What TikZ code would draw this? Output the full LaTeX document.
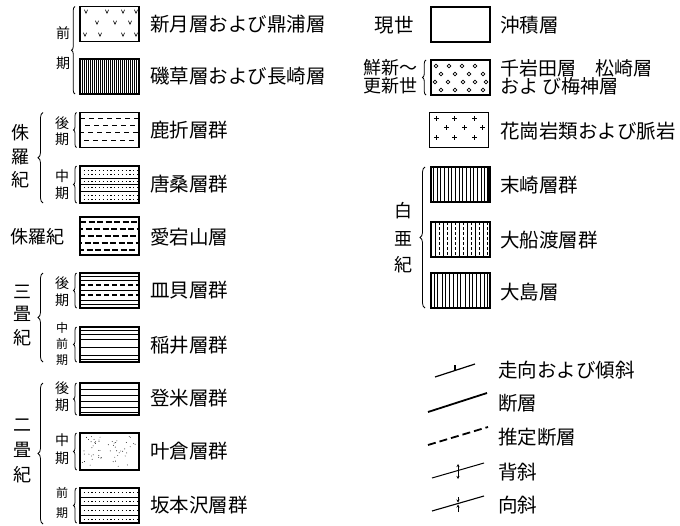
\documentclass[tikz,border=0pt]{standalone}
\usepackage{fontspec}
\newfontfamily\jp{Noto Sans CJK JP}
\usetikzlibrary{decorations.pathreplacing,arrows.meta,calc}
\tikzset{
  legbox/.style={draw, line width=1.1pt, minimum width=59pt, minimum height=35pt, inner sep=0pt, outer sep=0pt},
  hl/.style={line width=0.6pt},
  dotl/.style={line width=0.6pt, dash pattern=on 1.2pt off 2.6pt},
  lab/.style={anchor=west, inner sep=0pt, font=\jp\fontsize{19.5}{19.5}\selectfont},
  side/.style={inner sep=0pt, font=\jp\fontsize{14}{14}\selectfont},
  sidesm/.style={inner sep=0pt, font=\jp\fontsize{12}{12}\selectfont},
  era/.style={inner sep=0pt, font=\jp\fontsize{18}{18}\selectfont},
  brc/.style={decorate, decoration={brace, amplitude=#1}, line width=0.8pt},
  brc/.default=3.5pt,
  sym/.style={line width=1.2pt}
}
\newcommand\fillpat[2]{\begin{scope}\clip (#1.north west) rectangle (#1.south east);
  \begin{scope}[shift={(#1.north west)}]#2\end{scope}\end{scope}}
\begin{document}
\begin{tikzpicture}[x=1pt,y=-1pt]
\useasboundingbox (0,0) rectangle (680,525);

% ---------------- left column boxes ----------------
\node[legbox] (L1) at (109.5,24) {};
\node[legbox] (L2) at (109.5,76.5) {};
\node[legbox] (L3) at (109.5,130) {};
\node[legbox, minimum height=37pt] (L4) at (109.5,184.5) {};
\node[legbox, minimum height=38pt] (L5) at (109.5,236) {};
\node[legbox] (L6) at (109.5,290.5) {};
\node[legbox] (L7) at (109.5,344.5) {};
\node[legbox, minimum height=32pt] (L8) at (109.5,399) {};
\node[legbox, minimum height=37pt] (L9) at (109.5,451.5) {};
\node[legbox] (L10) at (109.5,505.5) {};

\fillpat{L1}{\foreach \x/\y in {6/5,27/5,43/5,56/5,17/16,35/16,50/16,5/28,20/28,43/28,56/28}
   \draw[line width=0.6pt] (\x-1.6,\y-1.8) -- (\x,\y+1.8) -- (\x+1.6,\y-1.8);}
\fillpat{L2}{\foreach \i in {2,4,...,58} \draw[line width=0.75pt] (\i,0)--(\i,40);}
\fillpat{L3}{\foreach \y/\o in {6/0,13/4,20/1,28/5} \draw[line width=0.6pt, dash pattern=on 5pt off 4pt, dash phase=\o pt] (0,\y)--(60,\y);}
\fillpat{L4}{\foreach \y in {12,18,25} \draw[hl] (0,\y)--(60,\y);
   \foreach \y in {4,8,15,21,29,33} \draw[dotl] (0,\y)--(60,\y);}
\fillpat{L5}{\foreach \y/\o in {5/0,12/3,19/1,26/4,33/2} \draw[line width=1.5pt, dash pattern=on 6pt off 2.5pt, dash phase=\o pt] (0,\y)--(60,\y);}
\fillpat{L6}{\foreach \y in {3,7,17,27,31} \draw[hl] (0,\y)--(60,\y);
   \foreach \y in {12,22} \draw[line width=1.4pt, dash pattern=on 5pt off 3pt] (0,\y)--(60,\y);}
\fillpat{L7}{\foreach \y in {3,7,12,20,28,32} \draw[hl] (0,\y)--(60,\y);}
\fillpat{L8}{\foreach \y in {6,12,18,24,29} \draw[hl] (0,\y)--(60,\y);}
\fillpat{L9}{\pgfmathsetseed{11}\foreach \k in {1,...,55}{\pgfmathsetmacro\rx{2+55*rnd}\pgfmathsetmacro\ry{2+33*rnd}\fill (\rx,\ry) circle (0.45pt);}}
\fillpat{L10}{\foreach \y in {9,17,27} \draw[hl] (0,\y)--(60,\y);
   \foreach \y in {4,13,22,31} \draw[dotl] (0,\y)--(60,\y);}

% left texts
\node[lab] (T1) at (150,24) {新月層および鼎浦層};
\node[lab] (T2) at (150,76) {磯草層および長崎層};
\node[lab] (T3) at (150,130) {鹿折層群};
\node[lab] (T4) at (150,184) {唐桑層群};
\node[lab] (T5) at (150,237) {愛宕山層};
\node[lab] (T6) at (150,290) {皿貝層群};
\node[lab] (T7) at (150,345) {稲井層群};
\node[lab] (T8) at (150,398) {登米層群};
\node[lab] (T9) at (150,451) {叶倉層群};
\node[lab] (T10) at (150,505) {坂本沢層群};

% side labels
\node[side] (a1) at (63,33) {前};
\node[side] (a2) at (63,63) {期};
\node[side] (b1) at (62,123) {後};
\node[side] (b2) at (62,139) {期};
\node[side] (c1) at (62,176) {中};
\node[side] (c2) at (62,193) {期};
\node[side] (d1) at (62,283) {後};
\node[side] (d2) at (62,300) {期};
\node[sidesm] (e1) at (62,328) {中};
\node[sidesm] (e2) at (62,344) {前};
\node[sidesm] (e3) at (62,360) {期};
\node[side] (f1) at (62,388) {後};
\node[side] (f2) at (62,405) {期};
\node[side] (g1) at (62,440) {中};
\node[side] (g2) at (62,458) {期};
\node[sidesm] (h1) at (62,493) {前};
\node[sidesm] (h2) at (62,513) {期};

% era labels
\node[era] (j1) at (21,133) {侏};
\node[era] (j2) at (21,157) {羅};
\node[era] (j3) at (21,180) {紀};
\node[era] (jj) at (37,237) {侏羅紀};
\node[era] (k1) at (22,292) {三};
\node[era] (k2) at (22,314) {畳};
\node[era] (k3) at (22,338) {紀};
\node[era] (m1) at (22,425) {二};
\node[era] (m2) at (22,450) {畳};
\node[era] (m3) at (22,475) {紀};

% braces left
\draw[brc] ($(L2.south west)+(-5,0)$) -- ($(L1.north west)+(-5,0)$);
\draw[brc=3pt] ($(L3.south west)+(-3.5,0)$) -- ($(L3.north west)+(-3.5,0)$);
\draw[brc=3pt] ($(L4.south west)+(-3.5,0)$) -- ($(L4.north west)+(-3.5,0)$);
\draw[brc=3pt] ($(L6.south west)+(-3.5,0)$) -- ($(L6.north west)+(-3.5,0)$);
\draw[brc=3pt] ($(L7.south west)+(-3.5,0)$) -- ($(L7.north west)+(-3.5,0)$);
\draw[brc=3pt] ($(L8.south west)+(-3.5,0)$) -- ($(L8.north west)+(-3.5,0)$);
\draw[brc=3pt] ($(L9.south west)+(-3.5,0)$) -- ($(L9.north west)+(-3.5,0)$);
\draw[brc=3pt] ($(L10.south west)+(-3.5,0)$) -- ($(L10.north west)+(-3.5,0)$);
\draw[brc=5pt] ($(L4.south west)+(-37,0)$) -- ($(L3.north west)+(-37,0)$);
\draw[brc=5pt] ($(L7.south west)+(-37,0)$) -- ($(L6.north west)+(-37,0)$);
\draw[brc=5pt] ($(L10.south west)+(-37,1)$) -- ($(L8.north west)+(-37,0)$);

% ---------------- right column boxes ----------------
\node[legbox] (R1) at (460.5,24.5) {};
\node[legbox] (R2) at (460.5,77.5) {};
\node[legbox] (R3) at (459,130) {};
\node[legbox] (R4) at (460.5,184.5) {};
\node[legbox] (R5) at (460.5,239.5) {};
\node[legbox] (R6) at (460.5,290.5) {};

\fillpat{R2}{\foreach \x/\y in {5/6,18/6,31/6,44/6,10/14,24/14,38/14,52/14,4/22,17/22,32/22,44/22,55/22,10/30,24/30,38/30,52/30}
   \draw[line width=0.6pt] (\x,\y) circle (1.9pt);}
\fillpat{R3}{\foreach \x/\y in {7/6,25/6,45/6,17/15,35/15,53/15,7/25,25/25,45/25}
   \draw[line width=0.6pt] (\x-2.4,\y)--(\x+2.4,\y) (\x,\y-2.4)--(\x,\y+2.4);}
\fillpat{R4}{\foreach \x/\w in {2/0.6,6/1,9/0.6,13/0.9,17/0.6,20/1,24/0.6,28/0.9,31/0.6,35/1,39/0.6,42/0.9,46/0.6,50/1,53/0.7,57/1.1}
   \draw[line width=\w pt] (\x,0)--(\x,40);}
\fillpat{R5}{\foreach \x in {4,12,20,28,36,44,52} \draw[line width=0.8pt] (\x,0)--(\x,40);
   \foreach \x in {8,16,24,32,40,48,56} \draw[line width=0.6pt, dash pattern=on 3pt off 2pt] (\x,0)--(\x,40);}
\fillpat{R6}{\foreach \x in {3,6,11,14,18,22,26,29,34,38,41,45,49,53,56} \draw[line width=0.65pt] (\x,0)--(\x,40);}

% right texts
\node[lab, anchor=east] (P1) at (414,25) {現世};
\node[era, anchor=east, align=right] (P2) at (418,77) {鮮新～\\更新世};
\node[lab, align=left, font=\jp\fontsize{19}{18}\selectfont] (U2) at (500,77) {千岩田層　松崎層\\およ び梅神層};
\node[lab] (U1) at (500,25) {沖積層};
\node[lab] (U3) at (500,131) {花崗岩類および脈岩};
\node[lab] (U4) at (500,185) {末崎層群};
\node[lab] (U5) at (500,240) {大船渡層群};
\node[lab] (U6) at (500,292) {大島層};

\node[era] (w1) at (403,211) {白};
\node[era] (w2) at (403,239) {亜};
\node[era] (w3) at (403,265) {紀};

\draw[brc] ($(R2.south west)+(-5,0)$) -- ($(R2.north west)+(-5,0)$);
\draw[brc=5pt] ($(R6.south west)+(-6,0)$) -- ($(R4.north west)+(-6,0)$);

% ---------------- map symbols ----------------
\coordinate (s1a) at (435,377); \coordinate (s1b) at (475,364);
\draw[sym] (s1a) -- (s1b);
\coordinate (s1m) at ($(s1a)!0.5!(s1b)$);
\coordinate (s1t) at ($(s1m)+(0,-6)$);
\draw[sym] (s1m) -- (s1t);

\coordinate (s2a) at (428,412); \coordinate (s2b) at (487,393);
\draw[line width=1.8pt] (s2a) -- (s2b);

\coordinate (s3a) at (428,445); \coordinate (s3b) at (488,427);
\draw[line width=1.8pt, dash pattern=on 8pt off 4pt] (s3a) -- (s3b);

\coordinate (s4a) at (432,478); \coordinate (s4b) at (484,463);
\draw[line width=1pt] (s4a) -- (s4b);
\coordinate (s4u) at (458,464); \coordinate (s4d) at (458,479);
\draw[line width=0.9pt, {Stealth[length=3pt,width=3pt]}-{Stealth[length=3pt,width=3pt]}] (s4u) -- (s4d);

\coordinate (s5a) at (432,511); \coordinate (s5b) at (484,496);
\draw[line width=1.1pt] (s5a) -- (s5b);
\coordinate (s5u) at (458,497); \coordinate (s5d) at (458,512);
\coordinate (s5m) at (458,503.5);
\draw[line width=1pt, -{Stealth[length=3pt,width=3pt]}] (s5u) -- ($(s5m)+(0,-1)$);
\draw[line width=1pt, -{Stealth[length=3pt,width=3pt]}] (s5d) -- ($(s5m)+(0,1)$);

\node[lab] (V1) at (498,370) {走向および傾斜};
\node[lab] (V2) at (498,403) {断層};
\node[lab] (V3) at (498,437) {推定断層};
\node[lab] (V4) at (498,472) {背斜};
\node[lab] (V5) at (498,505) {向斜};
\end{tikzpicture}
\end{document}
